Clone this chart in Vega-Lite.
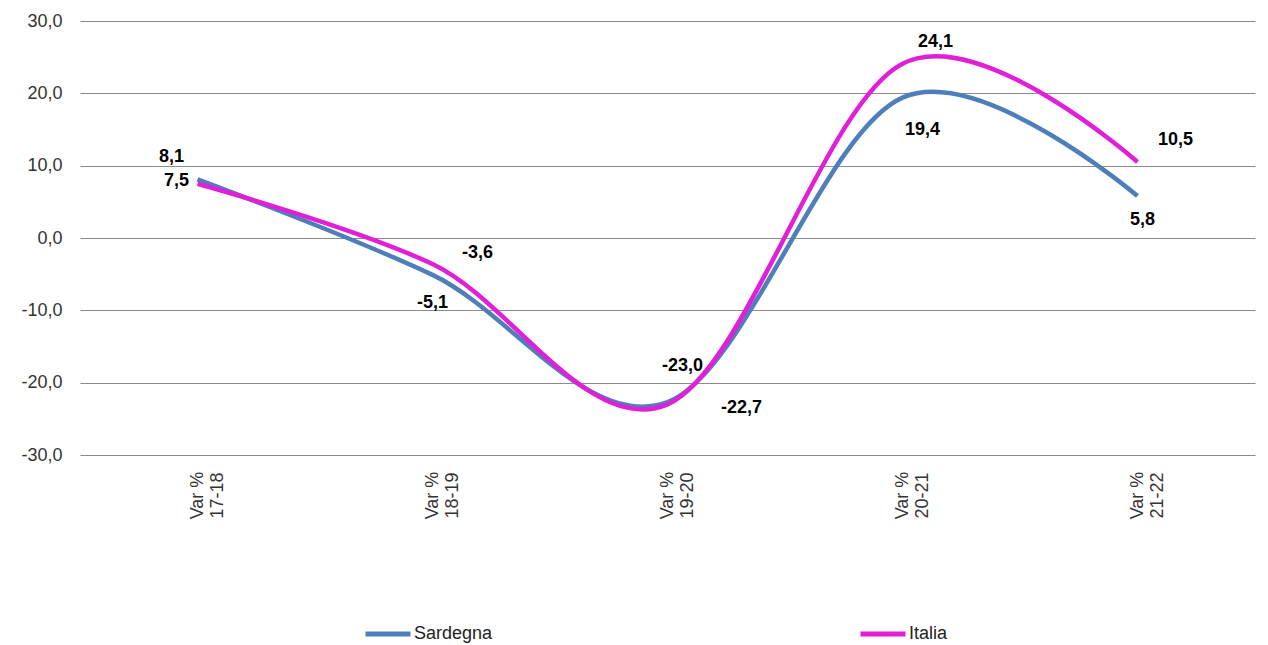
{
  "$schema": "https://vega.github.io/schema/vega-lite/v6.json",
  "width": 1175,
  "height": 434,
  "autosize": "none",
  "padding": {"left": 80, "top": 21, "right": 13, "bottom": 190},
  "background": "white",
  "config": {
    "font": "Liberation Sans",
    "view": {"stroke": null}
  },
  "data": {
    "values": [
      {"periodo": "Var % 17-18", "serie": "Sardegna", "valore": 8.1},
      {"periodo": "Var % 18-19", "serie": "Sardegna", "valore": -5.1},
      {"periodo": "Var % 19-20", "serie": "Sardegna", "valore": -22.7},
      {"periodo": "Var % 20-21", "serie": "Sardegna", "valore": 19.4},
      {"periodo": "Var % 21-22", "serie": "Sardegna", "valore": 5.8},
      {"periodo": "Var % 17-18", "serie": "Italia", "valore": 7.5},
      {"periodo": "Var % 18-19", "serie": "Italia", "valore": -3.6},
      {"periodo": "Var % 19-20", "serie": "Italia", "valore": -23.0},
      {"periodo": "Var % 20-21", "serie": "Italia", "valore": 24.1},
      {"periodo": "Var % 21-22", "serie": "Italia", "valore": 10.5}
    ]
  },
  "transform": [
    {"calculate": "replace(replace(format(datum.valore, '.1f'), '.', ','), '\u2212', '-')", "as": "etichetta"}
  ],
  "encoding": {
    "x": {
      "field": "periodo", "type": "nominal", "sort": null,
      "scale": {"type": "point", "padding": 0.5},
      "axis": {
        "title": null, "labelAngle": -90, "labelAlign": "center", "labelBaseline": "middle",
        "labelPadding": 40, "labelFontSize": 18, "labelColor": "#333333",
        "labelExpr": "['Var %', slice(datum.value, 6)]", "labelLineHeight": 20,
        "ticks": false, "domain": false, "grid": false
      }
    },
    "y": {
      "field": "valore", "type": "quantitative",
      "scale": {"domain": [-30, 30], "nice": false, "zero": false},
      "axis": {
        "title": null, "values": [-30, -20, -10, 0, 10, 20, 30],
        "labelExpr": "datum.value + ',0'", "labelFontSize": 18, "labelColor": "#333333",
        "labelPadding": 18, "ticks": false, "domain": false,
        "grid": true, "gridColor": "#8c8c8c", "gridWidth": 1
      }
    }
  },
  "layer": [
    {
      "mark": {"type": "line", "interpolate": "cardinal", "strokeWidth": 4.5},
      "encoding": {
        "color": {
          "field": "serie", "type": "nominal",
          "scale": {"domain": ["Sardegna", "Italia"], "range": ["#4f7fba", "#e11fd8"]},
          "legend": {
            "title": null, "orient": "none", "direction": "horizontal",
            "legendX": 283, "legendY": 588,
            "symbolType": "stroke", "symbolSize": 2025, "symbolStrokeWidth": 5,
            "labelFontSize": 18, "labelColor": "#222222", "labelOffset": 1,
            "columnPadding": 357
          }
        }
      }
    },
    {"transform": [{"filter": "datum.serie == 'Sardegna' && datum.periodo == 'Var % 17-18'"}],
     "mark": {"type": "text", "fontWeight": "bold", "fontSize": 18, "dx": -26, "dy": -22}, "encoding": {"text": {"field": "etichetta"}}},
    {"transform": [{"filter": "datum.serie == 'Italia' && datum.periodo == 'Var % 17-18'"}],
     "mark": {"type": "text", "fontWeight": "bold", "fontSize": 18, "dx": -21, "dy": -3}, "encoding": {"text": {"field": "etichetta"}}},
    {"transform": [{"filter": "datum.serie == 'Sardegna' && datum.periodo == 'Var % 18-19'"}],
     "mark": {"type": "text", "fontWeight": "bold", "fontSize": 18, "dx": 0, "dy": 28}, "encoding": {"text": {"field": "etichetta"}}},
    {"transform": [{"filter": "datum.serie == 'Italia' && datum.periodo == 'Var % 18-19'"}],
     "mark": {"type": "text", "fontWeight": "bold", "fontSize": 18, "dx": 45, "dy": -11}, "encoding": {"text": {"field": "etichetta"}}},
    {"transform": [{"filter": "datum.serie == 'Sardegna' && datum.periodo == 'Var % 19-20'"}],
     "mark": {"type": "text", "fontWeight": "bold", "fontSize": 18, "dx": 74, "dy": 6}, "encoding": {"text": {"field": "etichetta"}}},
    {"transform": [{"filter": "datum.serie == 'Italia' && datum.periodo == 'Var % 19-20'"}],
     "mark": {"type": "text", "fontWeight": "bold", "fontSize": 18, "dx": 15, "dy": -38}, "encoding": {"text": {"field": "etichetta"}}},
    {"transform": [{"filter": "datum.serie == 'Sardegna' && datum.periodo == 'Var % 20-21'"}],
     "mark": {"type": "text", "fontWeight": "bold", "fontSize": 18, "dx": 20, "dy": 32}, "encoding": {"text": {"field": "etichetta"}}},
    {"transform": [{"filter": "datum.serie == 'Italia' && datum.periodo == 'Var % 20-21'"}],
     "mark": {"type": "text", "fontWeight": "bold", "fontSize": 18, "dx": 33, "dy": -22}, "encoding": {"text": {"field": "etichetta"}}},
    {"transform": [{"filter": "datum.serie == 'Sardegna' && datum.periodo == 'Var % 21-22'"}],
     "mark": {"type": "text", "fontWeight": "bold", "fontSize": 18, "dx": 5, "dy": 24}, "encoding": {"text": {"field": "etichetta"}}},
    {"transform": [{"filter": "datum.serie == 'Italia' && datum.periodo == 'Var % 21-22'"}],
     "mark": {"type": "text", "fontWeight": "bold", "fontSize": 18, "dx": 38, "dy": -22}, "encoding": {"text": {"field": "etichetta"}}}
  ]
}
